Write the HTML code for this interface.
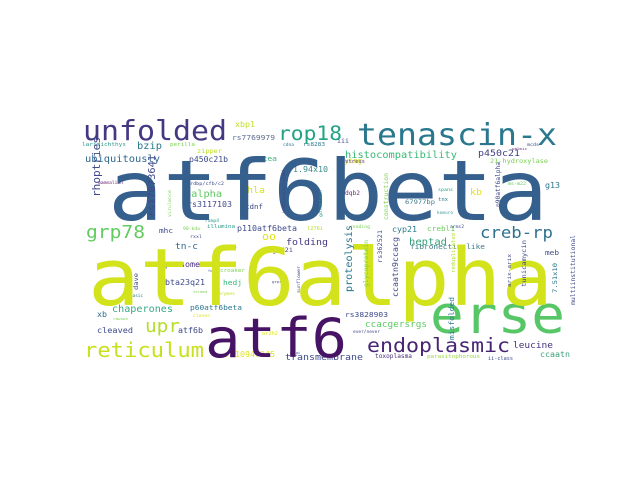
<!DOCTYPE html>
<html><head><meta charset="utf-8"><style>
html,body{margin:0;padding:0;background:#fff;}
svg text{font-family:"DejaVu Sans Mono","Liberation Mono",monospace;}
</style></head><body>
<svg width="640" height="480" viewBox="0 0 640 480" id="cloud"></svg>
<script>
const words=["atf6beta","atf6alpha","atf6","erse","tenascin-x","unfolded","rop18","creb-rp","grp78","reticulum","upr","endoplasmic","leucine","histocompatibility","p450c21","21-hydroxylase","ubiquitously","zipper","bzip","rs7769979","xbp1","p450c21b","crocea","1.94x10","6alpha","hla","rs3117103","cdnf","mhc","p110atf6beta","dqb2","kb","67977bp","cyp21","crebl1","g13","tn-c","lgmd2i","folding","heptad","fibronectin-like","uprosome","bta23q21","hedj","chaperones","p60atf6beta","xb","cleaved","atf6b","or2h2","rs10947345","transmembrane","rs3828903","ccacgersrgs","ccaatn","iii","stress","cdna","rs8283","spans","tnx","komuro","mcds","gondii","fnIII","croaker","grps","basic","termed","prymes","clones","rawson","toxoplasma","parasitophorous","ii-class","meb","larimichthys","perilla","mammalian","ramp4","illumina","90-kda","l276i","ever/never","fkrp","oo","rdbp/cfb/c2","lying","palmic","ms-m22","arms2","reading","rxxl","golgi"];
const xs=[108,88,205,430,357,83,278,480,86,84,145,367,513,345,478,490,85,197,137,232,235,189,248,293,185,247,187,245,159,237,345,470,405,392,427,545,175,268,286,409,410,160,165,223,112,190,97,97,178,262,225,285,345,365,540,337,345,283,303,438,438,437,527,220,208,220,272,130,193,218,193,113,375,427,488,545,82,170,98,205,207,183,307,353,297,262,190,340,512,508,450,350,190,290];
const ys=[220,305,357,333,145,140,140,238,238,357,332,352,348,158,156,163,162,153,149,140,127,162,161,172,197,193,207,209,233,231,195,195,204,232,231,188,249,252,245,245,249,267,285,285,312,310,317,333,333,335,357,360,317,327,357,143,163,146,146,191,201,214,146,248,272,272,283,297,293,295,317,320,358,358,360,255,146,146,184,222,228,230,230,333,331,240,185,163,150,185,228,228,238,354];
const lens=[440,465,142,135,200,144,64,73,59,120,35,143,40,112,42,58,75,25,25,43,20,39,29,35,37,18,45,18,14,60,15,12,30,25,28,15,23,25,42,38,75,40,40,19,61,52,10,36,25,16,50,78,43,62,30,12,20,11,22,15,10,16,12,17,10,25,10,13,14,17,17,15,37,53,25,14,44,25,25,14,28,17,16,27,10,14,34,22,15,18,14,20,12,10];
const colors=["#355f8d","#d2e21b","#471365","#56c667","#2a788e","#453882","#22a384","#2c718e","#62cb5f","#c8e020","#b5de2b","#482475","#46327e","#38b977","#414287","#7ad151","#31688e","#bddf26","#2a788e","#5b6a8a","#c2df23","#3e4a89","#35b779","#3b8a8c","#5ec962","#d8e219","#3e4a89","#3e4a89","#3e4a89","#3e4a89","#6a2c72","#e0e319","#3e7a8a","#2a788e","#6ccd5a","#2a788e","#31688e","#3e4a89","#453882","#35a07a","#3e7a8a","#472d7b","#3e4a89","#35b779","#38a886","#2a788e","#2c718e","#3e4a89","#3e4a89","#e0e319","#e0e319","#3e4a89","#3e4a89","#5ec962","#3ea07a","#3e4a89","#6a2c72","#2a788e","#2a788e","#2a9a8a","#2a788e","#3e9a9a","#3e4a89","#3e4a89","#3e4a89","#7ad151","#3e4a89","#2a788e","#7ad151","#c2df23","#e0e319","#7ad151","#472d7b","#9ad641","#3e4a89","#3e4a89","#2a9a8a","#7ad151","#6a2c72","#2a9a8a","#2a9a8a","#7ad151","#b5de2b","#3e4a89","#3e4a89","#e0e319","#3e4a89","#c2df23","#6a2c72","#5ec962","#3e4a89","#7ad151","#3e4a89","#3e4a89"];
const vWords=["rhoptries","rs17073641","proteolysis","rs362521","ccaatn9ccacg","p90atf6alpha","misfolded","glycoprotein","construction","dave","reduplicated","unglycosylated","virulence","goldstein","sunflower","tunicamycin","arix-arix","7.51x10","multiinstitutional"];
const vX=[100,155,352,382,398,500,454,368,388,138,455,285,171,322,300,526,511,557,575];
const vY=[197,217,292,263,297,207,340,287,220,290,273,213,217,217,293,287,287,293,305];
const vLen=[60,62,67,33,60,45,43,47,47,17,40,43,27,27,27,47,33,30,70];
const vCol=["#3e4a89","#3e4a89","#2a788e","#3e4a89","#3e4a89","#3e4a89","#2a788e","#7ad151","#7ad151","#3e4a89","#b5de2b","#3e4a89","#7ad151","#2a9a8a","#3e4a89","#3e4a89","#3e4a89","#2a788e","#3e4a89"];
const svg=document.getElementById('cloud');
const NS="http://www.w3.org/2000/svg";
function add(w,x,y,len,col,rot){
  const fs=len/(w.length*0.602)*0.92;
  const t=document.createElementNS(NS,'text');
  
  
  t.setAttribute('x',x);t.setAttribute('y',y);
  t.setAttribute('font-size',fs.toFixed(1));t.setAttribute('fill',col);
  t.setAttribute('textLength',len);t.setAttribute('lengthAdjust','spacingAndGlyphs');
  if(rot)t.setAttribute('transform','rotate(-90 '+x+' '+y+')');
  t.textContent=w;svg.appendChild(t);
}
for(let i=words.length-1;i>=0;i--)add(words[i],xs[i],ys[i],lens[i],colors[i],false);
for(let i=0;i<vWords.length;i++)add(vWords[i],vX[i],vY[i],vLen[i],vCol[i],true);
</script>
</body></html>
